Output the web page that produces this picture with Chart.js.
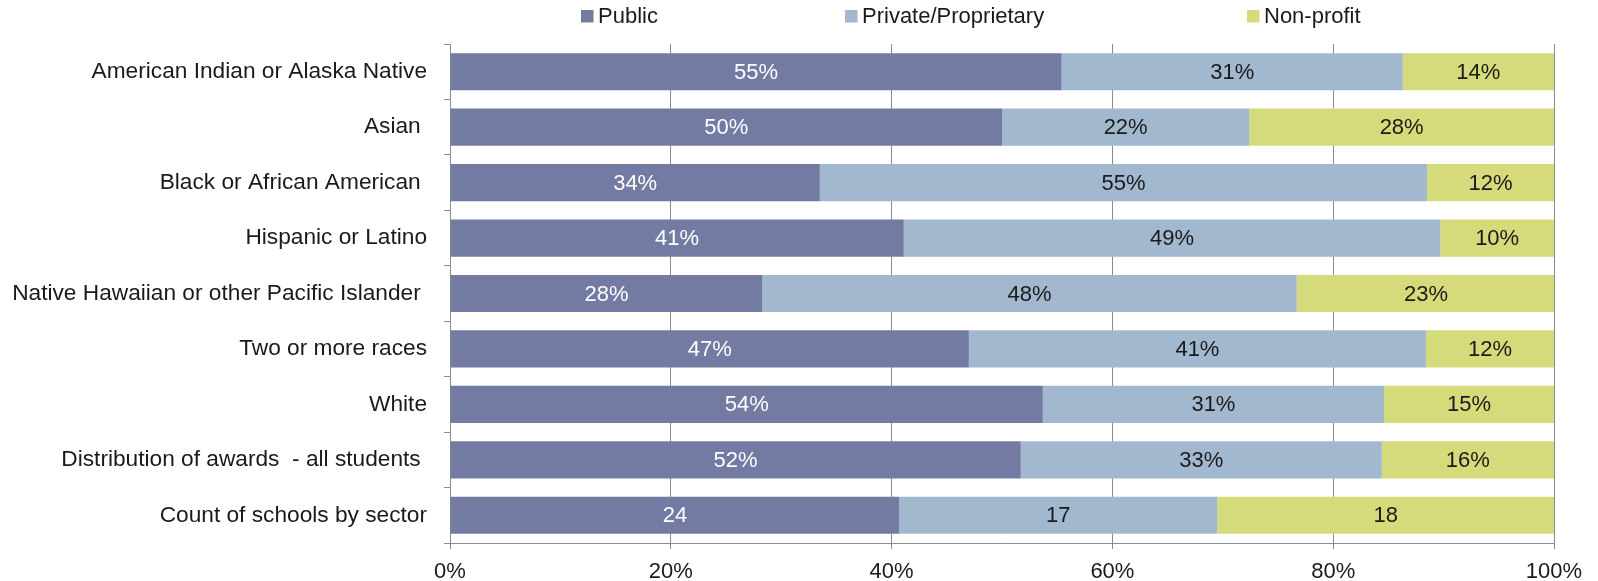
<!DOCTYPE html>
<html>
<head>
<meta charset="utf-8">
<script src="https://cdn.jsdelivr.net/npm/chart.js@4.4.1/dist/chart.umd.min.js"></script>
<style>
  html, body { margin: 0; padding: 0; background: #fff; }
  #wrap { width: 1598px; height: 581px; }
</style>
</head>
<body>
<div id="wrap"><canvas id="chart" width="1598" height="581"></canvas></div>
<script>
const categories = [
  "American Indian or Alaska Native",
  "Asian ",
  "Black or African American ",
  "Hispanic or Latino",
  "Native Hawaiian or other Pacific Islander ",
  "Two or more races",
  "White",
  "Distribution of awards  - all students ",
  "Count of schools by sector"
];

const seriesNames = ["Public", "Private/Proprietary", "Non-profit"];
const seriesColors = ["#737ba3", "#a2b8cf", "#d5da7a"];
const labelColors = ["#ffffff", "#1a1a1a", "#1a1a1a"];

// bar lengths, in percent of each row
const publicShare = [55.4, 50.0, 33.5, 41.1, 28.3, 47.0, 53.7, 51.7, 40.7];
const privateShare = [30.9, 22.4, 55.0, 48.6, 48.4, 41.4, 30.9, 32.7, 28.8];
const nonprofitShare = [13.7, 27.6, 11.5, 10.3, 23.4, 11.6, 15.4, 15.6, 30.5];

// text printed inside the bars
const publicLabels = ["55%", "50%", "34%", "41%", "28%", "47%", "54%", "52%", "24"];
const privateLabels = ["31%", "22%", "55%", "49%", "48%", "41%", "31%", "33%", "17"];
const nonprofitLabels = ["14%", "28%", "12%", "10%", "23%", "12%", "15%", "16%", "18"];

const xTicks = [0, 20, 40, 60, 80, 100];

const shares = [publicShare, privateShare, nonprofitShare];
const barLabels = [publicLabels, privateLabels, nonprofitLabels];

const AXIS_GREY = "#8c8c8c";
const TEXT = "#1a1a1a";
const FONT = "'Liberation Sans', Arial, sans-serif";

const barLabelPlugin = {
  id: "barLabels",
  afterDatasetsDraw(chart) {
    const ctx = chart.ctx;
    ctx.save();
    ctx.font = "22px " + FONT;
    ctx.textAlign = "center";
    ctx.textBaseline = "middle";
    chart.data.datasets.forEach((ds, di) => {
      const meta = chart.getDatasetMeta(di);
      meta.data.forEach((bar, i) => {
        const { x, y, base } = bar.getProps(["x", "y", "base"], true);
        ctx.fillStyle = labelColors[di];
        ctx.fillText(barLabels[di][i], (x + base) / 2, y + 1);
      });
    });
    ctx.restore();
  }
};

// Excel-style legend row above the plot
const legendPlugin = {
  id: "topLegend",
  afterDraw(chart) {
    const ctx = chart.ctx;
    const left = [581, 845, 1247];
    ctx.save();
    ctx.font = "22px " + FONT;
    ctx.textBaseline = "middle";
    ctx.textAlign = "left";
    chart.data.datasets.forEach((ds, di) => {
      ctx.fillStyle = ds.backgroundColor;
      ctx.fillRect(left[di], 10, 12.5, 12.5);
      ctx.fillStyle = TEXT;
      ctx.fillText(ds.label, left[di] + 17, 17);
    });
    ctx.restore();
  }
};

new Chart(document.getElementById("chart").getContext("2d"), {
  type: "bar",
  data: {
    labels: categories,
    datasets: seriesNames.map((name, i) => ({
      label: name,
      data: shares[i],
      backgroundColor: seriesColors[i],
      borderWidth: 0,
      barPercentage: 0.67,
      categoryPercentage: 1
    }))
  },
  options: {
    indexAxis: "y",
    responsive: false,
    animation: false,
    layout: { padding: { top: 44, left: 0, right: 0, bottom: 0 } },
    plugins: {
      legend: { display: false },
      tooltip: { enabled: false }
    },
    scales: {
      x: {
        stacked: true,
        min: 0,
        max: 100,
        afterBuildTicks(scale) {
          scale.ticks = xTicks.map(v => ({ value: v }));
        },
        afterFit(scale) {
          scale.height = 38;
          scale.paddingRight = 44;
        },
        grid: { color: AXIS_GREY, tickLength: 6, lineWidth: 1 },
        border: { display: true, color: AXIS_GREY },
        ticks: {
          color: TEXT,
          font: { family: FONT, size: 22 },
          padding: 10,
          maxRotation: 0,
          callback: v => v + "%"
        }
      },
      y: {
        stacked: true,
        afterFit(scale) {
          scale.width = 450;
        },
        grid: { color: AXIS_GREY, drawOnChartArea: false, tickLength: 6, offset: true },
        border: { display: true, color: AXIS_GREY },
        ticks: {
          color: TEXT,
          font: { family: FONT, size: 22.7 },
          padding: 17,
          autoSkip: false
        }
      }
    }
  },
  plugins: [barLabelPlugin, legendPlugin]
});
</script>
</body>
</html>
